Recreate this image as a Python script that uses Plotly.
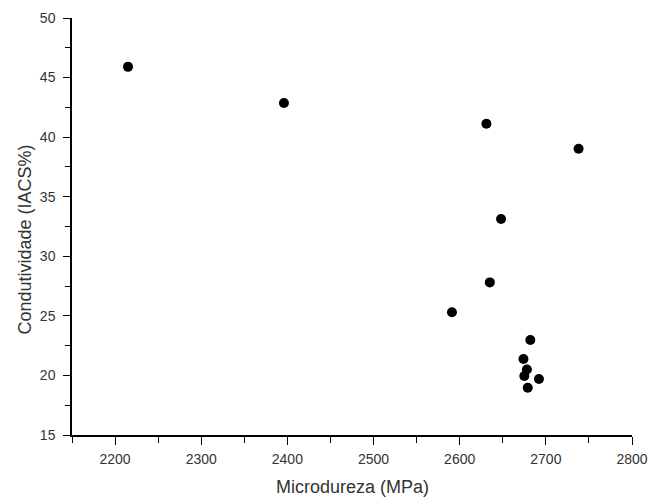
import plotly.graph_objects as go

microdureza = [2215, 2396, 2631, 2738, 2648, 2635, 2591, 2682, 2674, 2678, 2675, 2692, 2679]
condutividade = [45.9, 42.87, 41.13, 39.03, 33.13, 27.81, 25.3, 22.97, 21.38, 20.5, 19.95, 19.7, 18.97]

x_ticks = [2200, 2300, 2400, 2500, 2600, 2700, 2800]
y_ticks = [15, 20, 25, 30, 35, 40, 45, 50]

fig = go.Figure()
fig.add_trace(go.Scatter(
    x=microdureza, y=condutividade, mode="markers",
    marker=dict(color="black", size=10, line=dict(width=0)),
    showlegend=False,
))

font = "Liberation Sans, Arial, sans-serif"
fig.update_layout(
    width=649, height=498,
    margin=dict(l=72, r=17, t=18, b=63, autoexpand=False),
    paper_bgcolor="white", plot_bgcolor="white",
    font=dict(family=font, color="#333333"),
    xaxis=dict(
        range=[2150, 2800], tickvals=x_ticks, ticks="outside", ticklen=8, tickwidth=1.3,
        tickcolor="black", showline=True, linecolor="black", linewidth=1.5,
        showgrid=False, zeroline=False, ticklabelstandoff=2, automargin=False,
        tickfont=dict(size=14, color="#333333", family=font),
        minor=dict(dtick=50, ticks="outside", ticklen=6, tickcolor="black", tickwidth=1.2, showgrid=False),
    ),
    yaxis=dict(
        range=[15, 50], tickvals=y_ticks, ticks="outside", ticklen=7, tickwidth=1.3,
        tickcolor="black", showline=True, linecolor="black", linewidth=1.5,
        showgrid=False, zeroline=False, ticklabelstandoff=5, automargin=False,
        tickfont=dict(size=14, color="#333333", family=font),
        minor=dict(dtick=2.5, ticks="outside", ticklen=5, tickcolor="black", tickwidth=1.2, showgrid=False),
    ),
    annotations=[
        dict(text="Microdureza (MPa)", xref="paper", yref="paper", x=0.5, y=0,
             yshift=-52, showarrow=False, xanchor="center", yanchor="middle",
             font=dict(size=18, color="#333333", family=font)),
        dict(text="Condutividade (IACS%)", xref="paper", yref="paper", x=0, y=0.5,
             xshift=-48, yshift=-13, showarrow=False, textangle=-90,
             xanchor="center", yanchor="middle",
             font=dict(size=18, color="#333333", family=font)),
    ],
)

fig.write_html("out.html")
